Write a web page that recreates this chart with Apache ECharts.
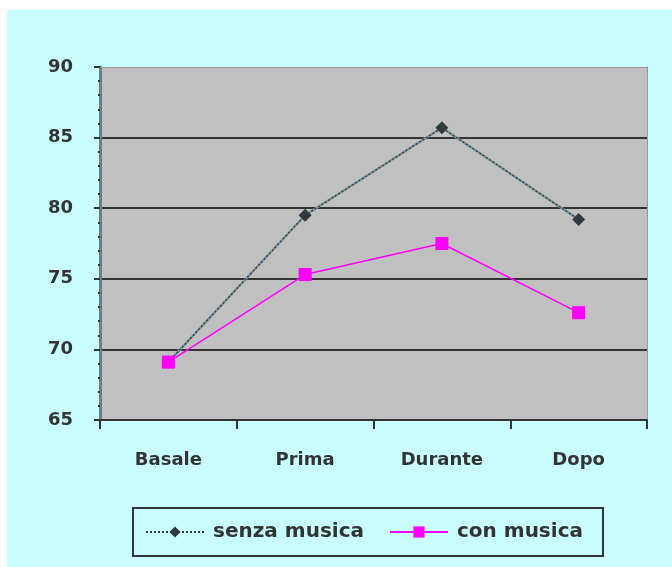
<!DOCTYPE html>
<html>
<head>
<meta charset="utf-8">
<script src="https://cdn.jsdelivr.net/npm/echarts@6/dist/echarts.min.js"></script>
<style>
  html, body { margin: 0; padding: 0; background: #ffffff; }
  #wrap { position: absolute; left: 7px; top: 10px; width: 665px; height: 557px; background: #c8fefe; }
  #chart { position: absolute; left: 0; top: 0; width: 672px; height: 567px; }
</style>
</head>
<body>
<div id="wrap"></div>
<div id="chart"></div>
<script>
// Heart-rate style measurements across four phases
const categories = ['Basale', 'Prima', 'Durante', 'Dopo'];
const senzaMusica = [69.1, 79.5, 85.7, 79.2];
const conMusica = [69.1, 75.3, 77.5, 72.6];
const yTicks = { min: 65, max: 90, interval: 5 };

const labelFont = { fontFamily: 'DejaVu Sans, Verdana, sans-serif', fontWeight: 'bold', fontSize: 18, color: '#333333' };

const chart = echarts.init(document.getElementById('chart'), null, { renderer: 'canvas' });
chart.setOption({
  backgroundColor: 'transparent',
  animation: false,
  grid: { left: 100, top: 67, right: 25, bottom: 147, show: true, backgroundColor: '#c0c0c0', borderWidth: 0 },
  legend: {
    data: ['senza musica', 'con musica'],
    left: 133, top: 508,
    padding: [14, 20, 14, 12],
    itemGap: 25,
    itemWidth: 58, itemHeight: 14,
    borderColor: '#333333', borderWidth: 2,
    textStyle: Object.assign({ padding: [0, 0, 0, 4] }, labelFont, { fontSize: 20 })
  },
  xAxis: [{
    type: 'category',
    data: categories,
    boundaryGap: true,
    axisLine: { lineStyle: { color: '#333333', width: 2 } },
    axisTick: { show: true, length: 9, lineStyle: { color: '#333333', width: 2 } },
    axisLabel: Object.assign({ margin: 31 }, labelFont),
    splitLine: { show: false }
  }, {
    type: 'category',
    position: 'top',
    data: categories,
    axisLine: { lineStyle: { color: '#888888', width: 1, type: 'dotted' } },
    axisTick: { show: false },
    axisLabel: { show: false }
  }],
  yAxis: [{
    type: 'value',
    min: yTicks.min, max: yTicks.max, interval: yTicks.interval,
    axisLine: { show: true, lineStyle: { color: '#6a7e86', width: 3 } },
    axisTick: { show: true, length: 6, lineStyle: { color: '#333333', width: 2 } },
    minorTick: { show: true, splitNumber: 5, length: 2, lineStyle: { color: '#333333', width: 2 } },
    axisLabel: Object.assign({ margin: 27 }, labelFont),
    splitLine: { show: true, showMaxLine: false, lineStyle: { color: '#333333', width: 2 } }
  }, {
    type: 'value',
    position: 'right',
    min: yTicks.min, max: yTicks.max, interval: yTicks.interval,
    axisLine: { show: true, lineStyle: { color: '#888888', width: 1, type: 'dotted' } },
    axisTick: { show: false },
    axisLabel: { show: false },
    splitLine: { show: false }
  }],
  series: [
    {
      // soft grey stroke underneath the dashed series line
      name: 'senza musica base',
      type: 'line',
      data: senzaMusica,
      symbol: 'none',
      silent: true,
      z: 1,
      lineStyle: { color: '#7a949c', width: 2.5 }
    },
    {
      name: 'senza musica',
      type: 'line',
      data: senzaMusica,
      symbol: 'diamond',
      symbolSize: 13,
      z: 2,
      itemStyle: { color: '#2f3a3e' },
      lineStyle: { color: '#2f3a3e', width: 1.2, type: [2, 2] }
    },
    {
      name: 'con musica',
      type: 'line',
      data: conMusica,
      symbol: 'rect',
      symbolSize: 13,
      z: 3,
      itemStyle: { color: '#ff00ff' },
      lineStyle: { color: '#ff00ff', width: 1.5 }
    }
  ]
});
</script>
</body>
</html>
